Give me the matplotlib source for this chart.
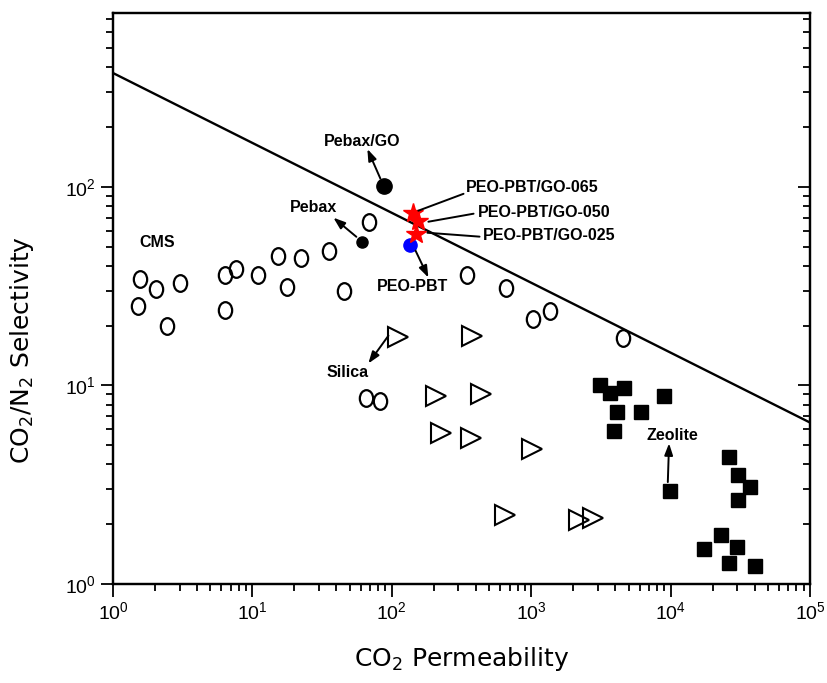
import numpy as np
import matplotlib
matplotlib.use("Agg")
import matplotlib.pyplot as plt
from matplotlib.path import Path
from matplotlib.transforms import Affine2D

plt.rcParams['font.family'] = ['Liberation Sans', 'DejaVu Sans']
plt.rcParams['mathtext.fontset'] = 'custom'
plt.rcParams['mathtext.rm'] = 'Liberation Sans'
plt.rcParams['mathtext.it'] = 'Liberation Sans'
plt.rcParams['mathtext.default'] = 'regular'

# upper bound line
bound_x = [1, 1e5]
bound_y = [374, 6.5]

# CMS (open circles)
cms_x = [1.51, 1.56, 2.04, 3.03, 2.44, 6.38, 7.65, 6.38, 11.0, 15.3, 17.8, 22.4,
         35.6, 45.7, 69.0, 65.7, 82.8, 344, 655, 1023, 1355, 4537]
cms_y = [25.0, 34.5, 30.7, 32.6, 19.8, 36.0, 38.7, 24.1, 36.0, 45.0, 31.4, 44.0,
         47.7, 30.0, 66.7, 8.6, 8.3, 36.0, 31.0, 21.7, 23.8, 17.4]

# Silica (open triangles)
silica_x = [111, 379, 209, 433, 227, 367, 1006, 644, 2191, 2760]
silica_y = [17.6, 17.8, 8.8, 9.1, 5.74, 5.42, 4.77, 2.22, 2.10, 2.15]

# Zeolite (filled squares)
zeolite_x = [3100, 3660, 4610, 8940, 4110, 6110, 3910, 9870, 26200, 30400,
             37100, 30400, 22900, 17300, 29900, 26200, 40300]
zeolite_y = [10.1, 9.12, 9.66, 8.81, 7.32, 7.32, 5.87, 2.93, 4.35, 3.53,
             3.07, 2.64, 1.76, 1.50, 1.53, 1.27, 1.23]

pebax_go = (88.5, 101)
pebax = (61.5, 53)
peo_pbt = (134, 51)
stars_x = [141, 153, 148]
stars_y = [74, 67.5, 58]

fig = plt.figure(figsize=(8.27, 6.83), dpi=100)
ax = fig.add_axes([113/827, 1-584/683, 697/827, 571/683])

ax.plot(bound_x, bound_y, color='black', lw=1.7)

ellipse = Path.unit_circle().transformed(Affine2D().scale(0.8, 1.0))
ax.plot(cms_x, cms_y, ls='none', marker=ellipse, ms=12, mfc='none', mec='black', mew=1.6)
ax.plot(silica_x, silica_y, ls='none', marker='>', ms=14, mfc='none', mec='black', mew=1.5)
ax.plot(zeolite_x, zeolite_y, ls='none', marker='s', ms=9.5, color='black')

ax.plot(*pebax_go, ls='none', marker='o', ms=11, color='black')
ax.plot(*pebax, ls='none', marker='o', ms=8, color='black')
ax.plot(*peo_pbt, ls='none', marker='o', ms=9.5, color='blue')
ax.plot(stars_x, stars_y, ls='none', marker='*', ms=15, color='red')

arr = dict(arrowstyle='-|>,head_length=0.7,head_width=0.25', color='black', lw=1.4, shrinkA=0, shrinkB=0)
line = dict(arrowstyle='-', color='black', lw=1.4, shrinkA=0, shrinkB=0)
tkw = dict(fontsize=11.5, fontweight='bold')

ax.annotate('', xy=(66.8, 155), xytext=(82.8, 110), arrowprops=arr)
ax.text(61.5, 170, 'Pebax/GO', ha='center', va='center', **tkw)

ax.annotate('', xy=(38.1, 69.9), xytext=(55.7, 56), arrowprops=arr)
ax.text(27.3, 78.4, 'Pebax', ha='center', va='center', **tkw)

ax.annotate('', xy=(183, 34.9), xytext=(148, 47.7), arrowprops=arr)
ax.text(141, 31.4, 'PEO-PBT', ha='center', va='center', **tkw)

ax.annotate('', xy=(327, 92.2), xytext=(155, 75.8), arrowprops=line)
ax.text(338, 98.9, 'PEO-PBT/GO-065', ha='left', va='center', **tkw)
ax.annotate('', xy=(386, 73.2), xytext=(183, 66.7), arrowprops=line)
ax.text(412, 74, 'PEO-PBT/GO-050', ha='left', va='center', **tkw)
ax.annotate('', xy=(426, 56.1), xytext=(180, 58.7), arrowprops=line)
ax.text(448, 56.7, 'PEO-PBT/GO-025', ha='left', va='center', **tkw)

ax.text(2.07, 52.3, 'CMS', ha='center', va='center', **tkw)

ax.annotate('', xy=(67.9, 12.9), xytext=(94.6, 17.8), arrowprops=arr)
ax.text(48, 11.6, 'Silica', ha='center', va='center', **tkw)

ax.annotate('', xy=(9750, 5.11), xytext=(9550, 3.26), arrowprops=arr)
ax.text(10370, 5.6, 'Zeolite', ha='center', va='center', **tkw)

ax.set_xscale('log')
ax.set_yscale('log')
ax.set_xlim(1, 1e5)
ax.set_ylim(1, 750)

for s in ax.spines.values():
    s.set_linewidth(1.6)
ax.tick_params(which='both', direction='out', width=1.3, labelsize=14, top=False, right=False)
ax.tick_params(which='major', length=9)
ax.tick_params(which='minor', length=5)

# ticks on the right side, pointing in
ax2 = ax.twinx()
ax2.set_yscale('log')
ax2.set_ylim(ax.get_ylim())
ax2.tick_params(which='both', direction='in', width=1.3, labelright=False)
ax2.tick_params(which='major', length=9)
ax2.tick_params(which='minor', length=5)
for s in ax2.spines.values():
    s.set_linewidth(1.6)

lab = dict(fontsize=18, family='DejaVu Sans')
ax.set_xlabel('CO$_2$ Permeability', labelpad=16, **lab)
ax.set_ylabel('CO$_2$/N$_2$ Selectivity', **lab)
ax.yaxis.set_label_coords(-0.11, 0.41)

fig.savefig('out.png', dpi=100)
